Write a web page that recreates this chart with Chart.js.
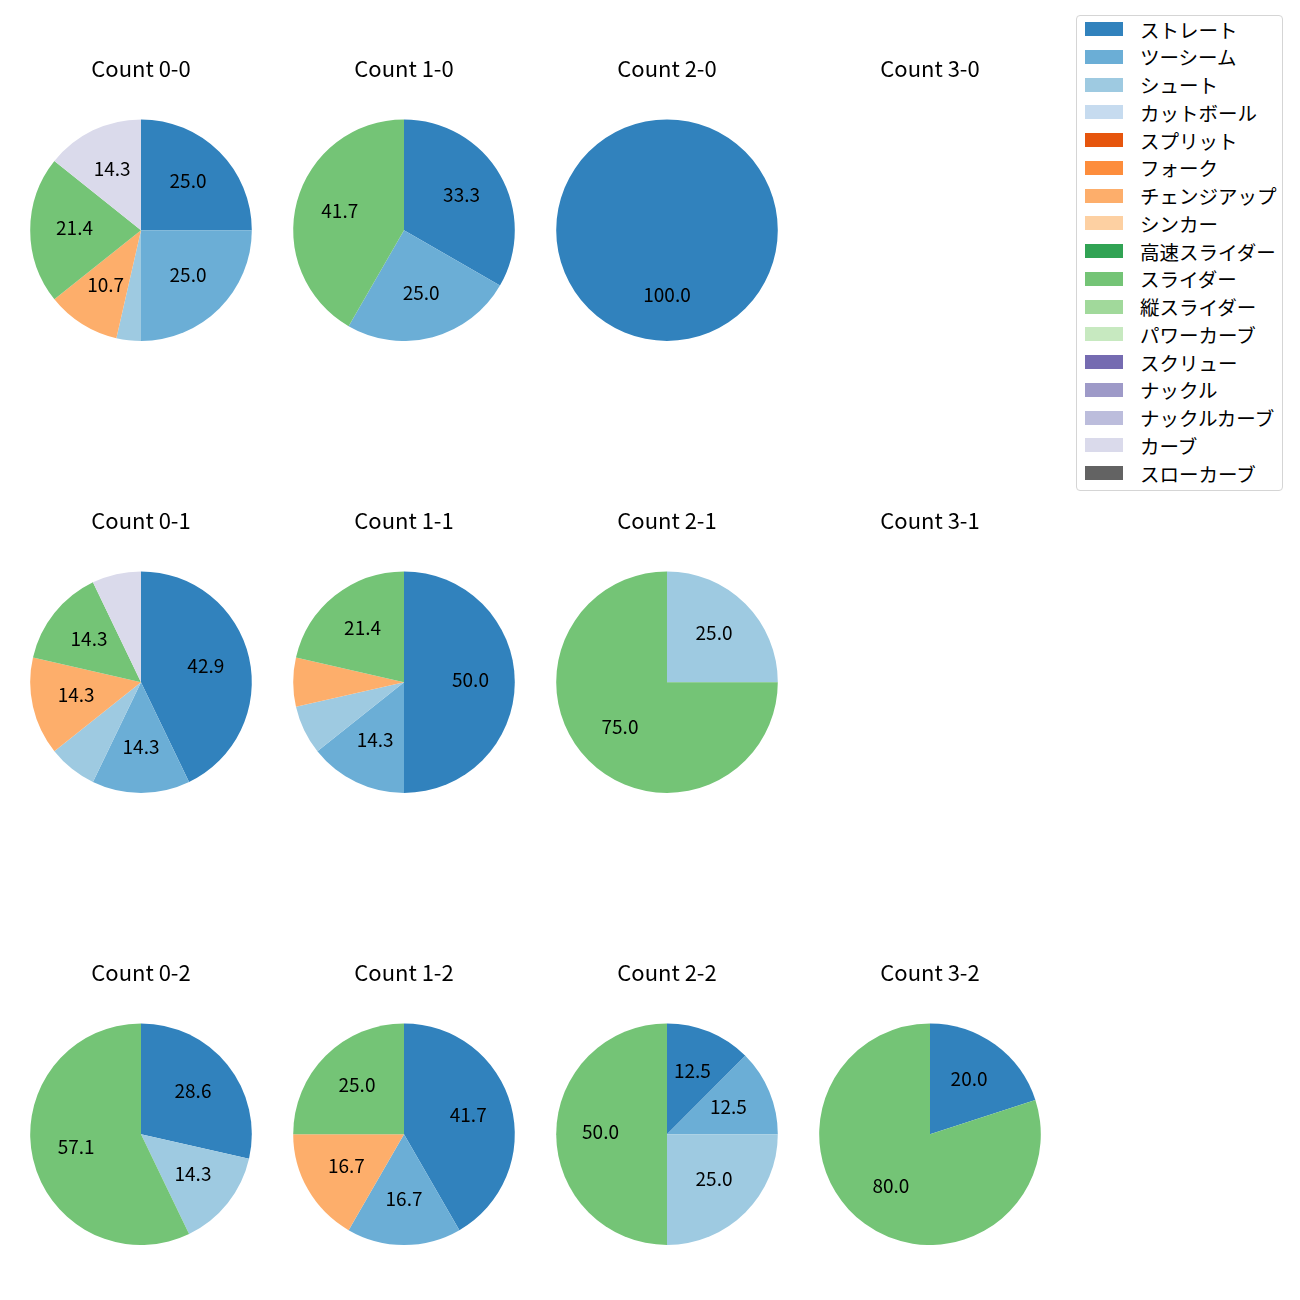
<!DOCTYPE html>
<html lang="ja">
  <head>
    <meta charset="UTF-8" />
    <title>Count別 球種割合</title>
    <script src="https://cdn.jsdelivr.net/npm/chart.js"></script>
    <style>
      body {
        margin: 0;
        background: #fff;
        font-family: "Noto Sans CJK JP", sans-serif;
      }
      #page {
        position: relative;
        width: 1300px;
        height: 1300px;
      }
      canvas {
        position: absolute;
      }
      #legend {
        position: absolute;
        left: 1076px;
        top: 15px;
        width: 205px;
        height: 474px;
        border: 1px solid #d5d5d5;
        border-radius: 4px;
      }
      .item {
        position: absolute;
        left: 8px;
        height: 24px;
        display: flex;
        align-items: center;
        font-size: 19.5px;
        color: #000;
        white-space: nowrap;
      }
      .item span {
        display: inline-block;
        width: 38px;
        height: 14px;
        margin-right: 17px;
      }
    </style>
  </head>
  <body>
    <div id="page">
      <div id="legend"></div>
    </div>

    <script>
      // pitch types and colors (tab20c)
      const pitchTypes = [
        "ストレート", "ツーシーム", "シュート", "カットボール", "スプリット",
        "フォーク", "チェンジアップ", "シンカー", "高速スライダー", "スライダー",
        "縦スライダー", "パワーカーブ", "スクリュー", "ナックル", "ナックルカーブ",
        "カーブ", "スローカーブ",
      ];
      const pitchColors = [
        "#3182bd", "#6baed6", "#9ecae1", "#c6dbef", "#e6550d",
        "#fd8d3c", "#fdae6b", "#fdd0a2", "#31a354", "#74c476",
        "#a1d99b", "#c7e9c0", "#756bb1", "#9e9ac8", "#bcbddc",
        "#dadaeb", "#636363",
      ];

      // pitch counts per ball-strike count, same order as pitchTypes
      const count00 = [7, 7, 1, 0, 0, 0, 3, 0, 0, 6, 0, 0, 0, 0, 0, 4, 0];
      const count10 = [4, 3, 0, 0, 0, 0, 0, 0, 0, 5, 0, 0, 0, 0, 0, 0, 0];
      const count20 = [1, 0, 0, 0, 0, 0, 0, 0, 0, 0, 0, 0, 0, 0, 0, 0, 0];
      const count30 = [];
      const count01 = [6, 2, 1, 0, 0, 0, 2, 0, 0, 2, 0, 0, 0, 0, 0, 1, 0];
      const count11 = [7, 2, 1, 0, 0, 0, 1, 0, 0, 3, 0, 0, 0, 0, 0, 0, 0];
      const count21 = [0, 0, 1, 0, 0, 0, 0, 0, 0, 3, 0, 0, 0, 0, 0, 0, 0];
      const count31 = [];
      const count02 = [2, 0, 1, 0, 0, 0, 0, 0, 0, 4, 0, 0, 0, 0, 0, 0, 0];
      const count12 = [5, 2, 0, 0, 0, 0, 2, 0, 0, 3, 0, 0, 0, 0, 0, 0, 0];
      const count22 = [1, 1, 2, 0, 0, 0, 0, 0, 0, 4, 0, 0, 0, 0, 0, 0, 0];
      const count32 = [1, 0, 0, 0, 0, 0, 0, 0, 0, 4, 0, 0, 0, 0, 0, 0, 0];

      const panels = [
        ["Count 0-0", count00], ["Count 1-0", count10], ["Count 2-0", count20], ["Count 3-0", count30],
        ["Count 0-1", count01], ["Count 1-1", count11], ["Count 2-1", count21], ["Count 3-1", count31],
        ["Count 0-2", count02], ["Count 1-2", count12], ["Count 2-2", count22], ["Count 3-2", count32],
      ];

      const page = document.getElementById("page");
      const colX = [141, 404, 667, 930];
      const rowTitleY = [69, 521, 973];

      // percent labels inside slices (like autopct, hidden for small slices)
      const pctLabels = {
        id: "pctLabels",
        afterDatasetsDraw(chart) {
          const ctx = chart.ctx;
          const data = chart.data.datasets[0].data;
          const total = data.reduce((a, b) => a + b, 0);
          const meta = chart.getDatasetMeta(0);
          ctx.save();
          ctx.font = "19px 'Noto Sans CJK JP'";
          ctx.fillStyle = "#000";
          ctx.textAlign = "center";
          ctx.textBaseline = "middle";
          meta.data.forEach((arc, i) => {
            const pct = (data[i] / total) * 100;
            if (pct < 10) return;
            const p = arc.getProps(["x", "y", "startAngle", "endAngle", "outerRadius"], true);
            const mid = (p.startAngle + p.endAngle) / 2;
            const r = p.outerRadius * 0.6;
            ctx.fillText(pct.toFixed(1), p.x + Math.cos(mid) * r, p.y + Math.sin(mid) * r - 2);
          });
          ctx.restore();
        },
      };

      panels.forEach(([title, values], i) => {
        const col = i % 4;
        const row = Math.floor(i / 4);
        const canvas = document.createElement("canvas");
        canvas.width = 260;
        canvas.height = 291;
        canvas.style.left = colX[col] - 130 + "px";
        canvas.style.top = rowTitleY[row] - 19 + "px";
        page.appendChild(canvas);

        new Chart(canvas, {
          type: "pie",
          data: {
            labels: values.length ? pitchTypes : [],
            datasets: [
              {
                data: values,
                backgroundColor: pitchColors,
                borderWidth: 0,
              },
            ],
          },
          options: {
            responsive: false,
            animation: false,
            devicePixelRatio: 1,
            layout: { padding: 0 },
            plugins: {
              legend: { display: false },
              tooltip: { enabled: false },
              title: {
                display: true,
                text: title,
                color: "#000",
                font: { family: "'Noto Sans CJK JP'", size: 22, weight: "normal", lineHeight: 1.2 },
                padding: { top: 5, bottom: 38 },
              },
            },
          },
          plugins: [pctLabels],
        });
      });

      // legend
      const legend = document.getElementById("legend");
      pitchTypes.forEach((name, i) => {
        const item = document.createElement("div");
        item.className = "item";
        item.style.top = 1 + i * 27.75 + "px";
        item.innerHTML = '<span style="background:' + pitchColors[i] + '"></span>' + name;
        legend.appendChild(item);
      });
    </script>
  </body>
</html>
